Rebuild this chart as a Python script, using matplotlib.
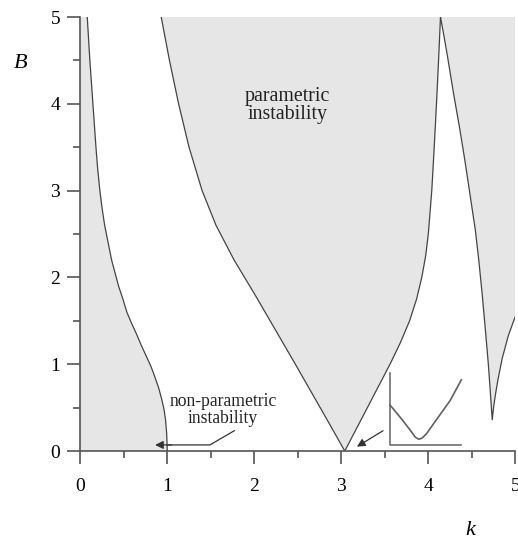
import matplotlib
matplotlib.use("Agg")
import matplotlib.pyplot as plt
import numpy as np

plt.rcParams['font.family'] = ['Liberation Serif', 'DejaVu Serif']

# boundary of the non-parametric region (left)
k_left = [0.08, 0.11, 0.145, 0.18, 0.20, 0.225, 0.25, 0.28, 0.32, 0.36, 0.40, 0.44, 0.49,
          0.535, 0.59, 0.645, 0.70, 0.755, 0.81, 0.855, 0.90, 0.935, 0.962, 0.98, 0.993, 1.0]
B_left = [5.0, 4.5, 4.0, 3.5, 3.25, 3.0, 2.8, 2.6, 2.4, 2.2, 2.05, 1.9, 1.75,
          1.6, 1.47, 1.35, 1.22, 1.1, 0.98, 0.86, 0.73, 0.6, 0.48, 0.36, 0.2, 0.0]

# main parametric tongue (V shape)
k_vl = [0.93, 1.025, 1.13, 1.25, 1.40, 1.56, 1.768, 2.008, 2.24, 2.472, 2.70, 2.871, 3.04]
B_vl = [5.0, 4.5, 4.0, 3.5, 3.0, 2.6, 2.2, 1.8, 1.4, 1.0, 0.6, 0.3, 0.0]
k_vr = [3.04, 3.30, 3.56, 3.68, 3.785, 3.865, 3.925, 3.97, 4.00, 4.04, 4.068, 4.094, 4.118, 4.14]
B_vr = [0.0, 0.5, 1.0, 1.25, 1.5, 1.75, 2.0, 2.25, 2.5, 3.0, 3.5, 4.0, 4.5, 5.0]

# next tongue on the right
k_r = [4.14, 4.18, 4.22, 4.29, 4.36, 4.42, 4.48, 4.54, 4.58, 4.62, 4.66, 4.69, 4.71,
       4.725, 4.735, 4.75, 4.77, 4.80, 4.85, 4.92, 5.0]
B_r = [5.0, 4.78, 4.55, 4.12, 3.72, 3.35, 2.95, 2.55, 2.2, 1.8, 1.35, 1.0, 0.72,
       0.5, 0.36, 0.5, 0.64, 0.82, 1.07, 1.33, 1.55]

# zoomed sketch of the tip near k=3
ins_axis_k = [3.56, 3.56, 4.38]
ins_axis_B = [0.895, 0.07, 0.07]
ins_k = [3.56, 3.70, 3.80, 3.85, 3.89, 3.93, 3.98, 4.10, 4.25, 4.38]
ins_B = [0.53, 0.36, 0.23, 0.16, 0.135, 0.15, 0.20, 0.37, 0.58, 0.82]

fill_c = '#e6e6e6'
line_c = '#444444'
ax_c = '#555555'

fig = plt.figure(figsize=(5.18, 5.40), dpi=100)
ax = fig.add_axes([0.155, 0.1648, 0.8398, 0.8037])

ax.fill(np.r_[0, k_left, 0], np.r_[5, B_left, 0], color=fill_c, lw=0)
ax.fill(np.r_[k_vl, k_vr], np.r_[B_vl, B_vr], color=fill_c, lw=0)
ax.fill(np.r_[k_r, 5], np.r_[B_r, 5], color=fill_c, lw=0)

for kk, bb in [(k_left, B_left), (k_vl, B_vl), (k_vr, B_vr), (k_r, B_r)]:
    ax.plot(kk, bb, color=line_c, lw=0.9)

ax.plot(ins_axis_k, ins_axis_B, color='#707070', lw=1.2, clip_on=False)
ax.plot(ins_k, ins_B, color='#606060', lw=1.2)

ax.annotate('', xy=(3.18, 0.05), xytext=(3.48, 0.234),
            arrowprops=dict(arrowstyle='-|>', color='#333333', lw=0.9,
                            mutation_scale=12, shrinkA=0, shrinkB=0))
ax.plot([1.77, 1.49, 1.0], [0.234, 0.07, 0.07], color='#333333', lw=0.9)
ax.annotate('', xy=(0.86, 0.07), xytext=(1.05, 0.07),
            arrowprops=dict(arrowstyle='-|>', color='#333333', lw=0.9,
                            mutation_scale=12, shrinkA=0, shrinkB=0))

ax.text(1.64, 0.47, 'non-parametric\ninstability', ha='center', va='center',
        fontsize=12.7, linespacing=1.0, color='#222222')
ax.text(2.38, 3.98, 'parametric\ninstability', ha='center', va='center',
        fontsize=14.3, linespacing=0.95, color='#222222')

ax.set_xlim(0, 5)
ax.set_ylim(0, 5)
ax.set_xticks([0, 1, 2, 3, 4, 5])
ax.set_yticks([0, 1, 2, 3, 4, 5])
ax.set_xticks(np.arange(0.5, 5, 1), minor=True)
ax.set_yticks(np.arange(0.5, 5, 1), minor=True)
ax.tick_params(which='major', direction='out', length=9.5, width=1.2, color=ax_c, labelsize=14)
ax.tick_params(which='minor', direction='out', length=5, width=1.2, color=ax_c)
ax.tick_params(axis='x', pad=10)
ax.tick_params(axis='y', pad=5)
for s in ['top', 'right']:
    ax.spines[s].set_visible(False)
for s in ['left', 'bottom']:
    ax.spines[s].set_color(ax_c)
    ax.spines[s].set_linewidth(1.2)

fig.text(0.040, 0.883, 'B', fontsize=16, style='italic', ha='center', va='center')
fig.text(0.907, 0.0185, 'k', fontsize=16, style='italic', ha='center', va='center')

fig.savefig('out.png', dpi=100)
